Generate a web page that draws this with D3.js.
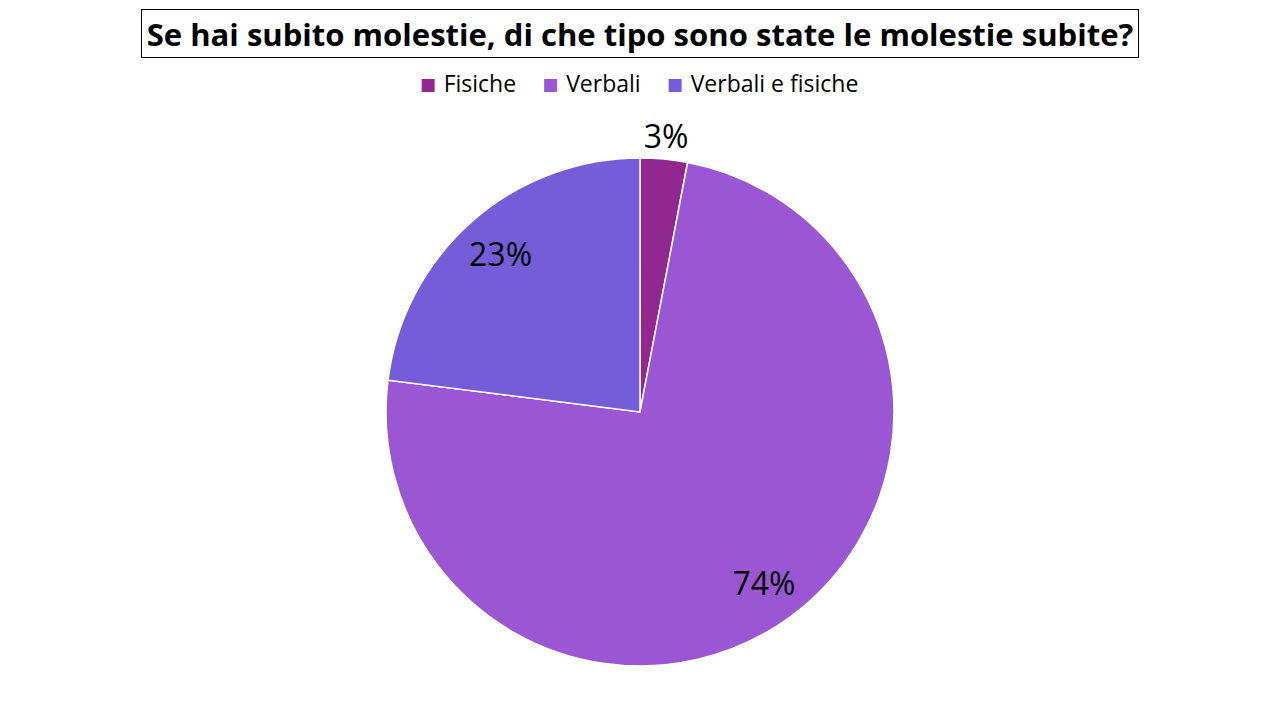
<!DOCTYPE html>
<html>
<head>
<meta charset="utf-8">
<script src="https://cdn.jsdelivr.net/npm/d3@7/dist/d3.min.js"></script>
<style>
html,body{margin:0;padding:0;background:#fff;}
svg{display:block;font-family:"Open Sans","Noto Sans",sans-serif;}
</style>
</head>
<body>
<svg id="chart" width="1280" height="720"></svg>
<script>
const titleText = "Se hai subito molestie, di che tipo sono state le molestie subite?";
const categories = ["Fisiche", "Verbali", "Verbali e fisiche"];
const values = [3, 74, 23];
const colors = ["#92278F", "#9B57D3", "#755DD9"];

const svg = d3.select("#chart");
const W = 1280, H = 720;
const cx = 640, cy = 412, R = 254;

// Title with box
const title = svg.append("text")
  .attr("x", W / 2).attr("y", 46)
  .attr("text-anchor", "middle")
  .attr("font-weight", "bold")
  .attr("font-size", 32)
  .attr("fill", "#000")
  .text(titleText);
const tw = title.node().getComputedTextLength();
const fs = 32 * 987 / tw;
title.attr("font-size", fs);
svg.insert("rect", "text")
  .attr("x", 141.5).attr("y", 9.5)
  .attr("width", 997).attr("height", 48)
  .attr("fill", "none").attr("stroke", "#000").attr("stroke-width", 1);

// Legend
const legend = svg.append("g");
const items = [];
categories.forEach((c, i) => {
  const g = legend.append("g");
  g.append("rect").attr("x", 0).attr("y", -13).attr("width", 13).attr("height", 13).attr("fill", colors[i]);
  const t = g.append("text").attr("x", 22).attr("y", 0).attr("font-size", 23).attr("fill", "#000").text(c);
  const w = 22 + t.node().getComputedTextLength();
  items.push({g, w});
});
let total = items.reduce((a, b) => a + b.w, 0) + 28 * (items.length - 1);
let start = W / 2 - total / 2;
items.forEach(it => {
  it.g.attr("transform", `translate(${start},92)`);
  start += it.w + 28;
});

// Pie
const pie = d3.pie().sort(null).value(d => d)(values);
const arc = d3.arc().innerRadius(0).outerRadius(R);
const g = svg.append("g").attr("transform", `translate(${cx},${cy})`);
g.selectAll("path").data(pie).join("path")
  .attr("d", arc)
  .attr("fill", (d, i) => colors[i])
  .attr("stroke", "#fff").attr("stroke-width", 1.5);

// Labels
const inner = d3.arc().innerRadius(R * 0.83).outerRadius(R * 0.83);
const outer = d3.arc().innerRadius(R + 24).outerRadius(R + 24);
g.selectAll("text.lbl").data(pie).join("text")
  .attr("class", "lbl")
  .attr("transform", (d) => {
    const p = (d.endAngle - d.startAngle) < 0.3 ? outer.centroid(d) : inner.centroid(d);
    return `translate(${p[0]},${p[1]})`;
  })
  .attr("text-anchor", "middle")
  .attr("dominant-baseline", "central")
  .attr("font-size", 32)
  .attr("fill", "#000")
  .text(d => d.data + "%");
</script>
</body>
</html>
